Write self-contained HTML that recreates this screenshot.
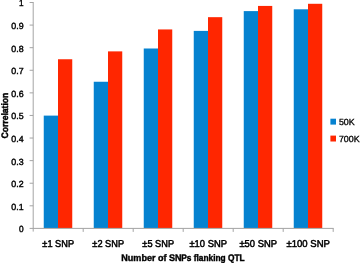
<!DOCTYPE html><html><head><meta charset="utf-8"><style>html,body{margin:0;padding:0;background:#fff;}svg{display:block;will-change:transform;}text{font-family:"Liberation Sans",sans-serif;fill:#000;text-rendering:geometricPrecision;}</style></head><body>
<svg width="360" height="263" viewBox="0 0 360 263">
<rect width="360" height="263" fill="#fff"/>
<rect x="43.75" y="115.61" width="14.3" height="112.39" fill="#0582d0"/>
<rect x="58.0" y="59.25" width="14.25" height="168.75" fill="#ff2600"/>
<rect x="93.75" y="81.75" width="14.3" height="146.25" fill="#0582d0"/>
<rect x="108.0" y="51.38" width="14.25" height="176.62" fill="#ff2600"/>
<rect x="143.75" y="48.50" width="14.3" height="179.50" fill="#0582d0"/>
<rect x="158.0" y="29.44" width="14.25" height="198.56" fill="#ff2600"/>
<rect x="193.75" y="30.90" width="14.3" height="197.10" fill="#0582d0"/>
<rect x="208.0" y="17.17" width="14.25" height="210.83" fill="#ff2600"/>
<rect x="243.75" y="11.10" width="14.3" height="216.90" fill="#0582d0"/>
<rect x="258.0" y="5.93" width="14.25" height="222.07" fill="#ff2600"/>
<rect x="293.75" y="9.30" width="14.3" height="218.70" fill="#0582d0"/>
<rect x="308.0" y="3.79" width="14.25" height="224.21" fill="#ff2600"/>
<g stroke="#a4a4a4" stroke-width="1" fill="none">
<line x1="33.2" y1="2" x2="33.2" y2="231.6"/>
<line x1="29.6" y1="228.4" x2="333.7" y2="228.4"/>
<line x1="29.6" y1="205.81" x2="33.2" y2="205.81"/>
<line x1="29.6" y1="183.22" x2="33.2" y2="183.22"/>
<line x1="29.6" y1="160.63" x2="33.2" y2="160.63"/>
<line x1="29.6" y1="138.04" x2="33.2" y2="138.04"/>
<line x1="29.6" y1="115.45" x2="33.2" y2="115.45"/>
<line x1="29.6" y1="92.86" x2="33.2" y2="92.86"/>
<line x1="29.6" y1="70.27" x2="33.2" y2="70.27"/>
<line x1="29.6" y1="47.68" x2="33.2" y2="47.68"/>
<line x1="29.6" y1="25.09" x2="33.2" y2="25.09"/>
<line x1="29.6" y1="2.50" x2="33.2" y2="2.50"/>
<line x1="83.2" y1="228.4" x2="83.2" y2="231.9"/>
<line x1="133.2" y1="228.4" x2="133.2" y2="231.9"/>
<line x1="183.2" y1="228.4" x2="183.2" y2="231.9"/>
<line x1="233.2" y1="228.4" x2="233.2" y2="231.9"/>
<line x1="283.2" y1="228.4" x2="283.2" y2="231.9"/>
<line x1="333.2" y1="228.4" x2="333.2" y2="231.9"/>
</g>
<text x="23.6" y="232.35" font-size="8.9" text-anchor="end" textLength="4.6" lengthAdjust="spacingAndGlyphs" stroke="#000" stroke-width="0.4">0</text>
<text x="23.6" y="209.76" font-size="8.9" text-anchor="end" textLength="12.3" lengthAdjust="spacingAndGlyphs" stroke="#000" stroke-width="0.4">0.1</text>
<text x="23.6" y="187.17" font-size="8.9" text-anchor="end" textLength="12.3" lengthAdjust="spacingAndGlyphs" stroke="#000" stroke-width="0.4">0.2</text>
<text x="23.6" y="164.58" font-size="8.9" text-anchor="end" textLength="12.3" lengthAdjust="spacingAndGlyphs" stroke="#000" stroke-width="0.4">0.3</text>
<text x="23.6" y="141.99" font-size="8.9" text-anchor="end" textLength="12.3" lengthAdjust="spacingAndGlyphs" stroke="#000" stroke-width="0.4">0.4</text>
<text x="23.6" y="119.40" font-size="8.9" text-anchor="end" textLength="12.3" lengthAdjust="spacingAndGlyphs" stroke="#000" stroke-width="0.4">0.5</text>
<text x="23.6" y="96.81" font-size="8.9" text-anchor="end" textLength="12.3" lengthAdjust="spacingAndGlyphs" stroke="#000" stroke-width="0.4">0.6</text>
<text x="23.6" y="74.22" font-size="8.9" text-anchor="end" textLength="12.3" lengthAdjust="spacingAndGlyphs" stroke="#000" stroke-width="0.4">0.7</text>
<text x="23.6" y="51.63" font-size="8.9" text-anchor="end" textLength="12.3" lengthAdjust="spacingAndGlyphs" stroke="#000" stroke-width="0.4">0.8</text>
<text x="23.6" y="29.04" font-size="8.9" text-anchor="end" textLength="12.3" lengthAdjust="spacingAndGlyphs" stroke="#000" stroke-width="0.4">0.9</text>
<text x="23.6" y="6.45" font-size="8.9" text-anchor="end" textLength="4.6" lengthAdjust="spacingAndGlyphs" stroke="#000" stroke-width="0.4">1</text>
<text x="58.2" y="247.3" font-size="10.0" text-anchor="middle" textLength="31.7" lengthAdjust="spacingAndGlyphs" stroke="#000" stroke-width="0.5">±1 SNP</text>
<text x="108.2" y="247.3" font-size="10.0" text-anchor="middle" textLength="31.7" lengthAdjust="spacingAndGlyphs" stroke="#000" stroke-width="0.5">±2 SNP</text>
<text x="158.2" y="247.3" font-size="10.0" text-anchor="middle" textLength="31.7" lengthAdjust="spacingAndGlyphs" stroke="#000" stroke-width="0.5">±5 SNP</text>
<text x="208.2" y="247.3" font-size="10.0" text-anchor="middle" textLength="37.5" lengthAdjust="spacingAndGlyphs" stroke="#000" stroke-width="0.5">±10 SNP</text>
<text x="258.2" y="247.3" font-size="10.0" text-anchor="middle" textLength="37.5" lengthAdjust="spacingAndGlyphs" stroke="#000" stroke-width="0.5">±50 SNP</text>
<text x="308.2" y="247.3" font-size="10.0" text-anchor="middle" textLength="43.4" lengthAdjust="spacingAndGlyphs" stroke="#000" stroke-width="0.5">±100 SNP</text>
<text x="121.3" y="260.6" font-size="9.5" font-weight="bold" textLength="60.3" lengthAdjust="spacingAndGlyphs" stroke="#000" stroke-width="0.4">Number of SN</text>
<text x="181.2" y="260.6" font-size="9.5" font-weight="bold" textLength="63.5" lengthAdjust="spacingAndGlyphs" stroke="#000" stroke-width="0.4">Ps flanking QTL</text>
<text transform="translate(7.8,115.6) rotate(-90)" font-size="9.4" font-weight="bold" text-anchor="middle" textLength="45.8" stroke="#000" stroke-width="0.45" lengthAdjust="spacingAndGlyphs">Correlation</text>
<rect x="330.4" y="118.7" width="5.6" height="5.9" fill="#0582d0"/>
<rect x="330.4" y="135.6" width="5.6" height="5.9" fill="#ff2600"/>
<text x="338.9" y="125.35" font-size="8.9" textLength="15.8" lengthAdjust="spacingAndGlyphs" stroke="#000" stroke-width="0.3">50K</text>
<text x="338.9" y="142.0" font-size="8.9" textLength="20.7" lengthAdjust="spacingAndGlyphs" stroke="#000" stroke-width="0.3">700K</text>
</svg></body></html>
